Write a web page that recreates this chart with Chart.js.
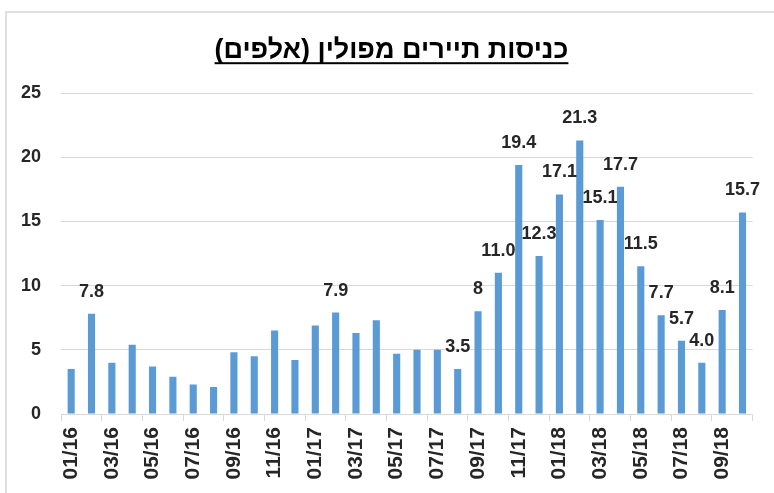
<!DOCTYPE html>
<html>
<head>
<meta charset="utf-8">
<script src="https://cdn.jsdelivr.net/npm/chart.js@4"></script>
<style>
  html, body { margin: 0; padding: 0; background: #ffffff; }
  #wrap { position: relative; width: 774px; height: 493px; }
</style>
</head>
<body>
<div id="wrap"><canvas id="tourists-chart"></canvas></div>
<script>
// כניסות תיירים מפולין, באלפים
const months = [
    '01/16', '02/16', '03/16', '04/16', '05/16', '06/16', '07/16', '08/16', '09/16', '10/16', '11/16', '12/16',
    '01/17', '02/17', '03/17', '04/17', '05/17', '06/17', '07/17', '08/17', '09/17', '10/17', '11/17', '12/17',
    '01/18', '02/18', '03/18', '04/18', '05/18', '06/18', '07/18', '08/18', '09/18', '10/18'
];
const entries = [
    3.5, 7.8, 4.0, 5.4, 3.7, 2.9, 2.3, 2.1, 4.8, 4.5, 6.5, 4.2,
    6.9, 7.9, 6.3, 7.3, 4.7, 5.0, 5.0, 3.5, 8.0, 11.0, 19.4, 12.3,
    17.1, 21.3, 15.1, 17.7, 11.5, 7.7, 5.7, 4.0, 8.1, 15.7
];
// תוויות הערכים שמופיעות מעל העמודות ('' = ללא תווית)
const valueLabels = [
    '', '7.8', '', '', '', '', '', '', '', '', '', '',
    '', '7.9', '', '', '', '', '', '3.5', '8', '11.0', '19.4', '12.3',
    '17.1', '21.3', '15.1', '17.7', '11.5', '7.7', '5.7', '4.0', '8.1', '15.7'
];
const yTicks = [0, 5, 10, 15, 20, 25];
const chartTitle = '\u200Fכניסות תיירים מפולין (אלפים)\u200F';

const textColor = '#262626';
const gridColor = '#d9d9d9';
const fontFamily = '"Liberation Sans", Arial, sans-serif';

// מסגרת אפורה (שמאל ולמעלה) וקו תחתון לכותרת
const framePlugin = {
    id: 'frame',
    beforeDraw(chart) {
        const ctx = chart.ctx;
        ctx.save();
        ctx.strokeStyle = '#e0e0e0';
        ctx.lineWidth = 2;
        ctx.beginPath();
        ctx.moveTo(6, chart.height);
        ctx.lineTo(6, 12);
        ctx.lineTo(chart.width, 12);
        ctx.stroke();
        ctx.restore();
    },
    afterDraw(chart) {
        const t = chart.titleBlock;
        if (!t) return;
        const ctx = chart.ctx;
        const font = Chart.helpers.toFont(chart.options.plugins.title.font);
        ctx.save();
        ctx.font = font.string;
        const w = ctx.measureText(chartTitle).width;
        const cx = (t.left + t.right) / 2;
        const cy = t.top + t.options.padding.top + font.lineHeight / 2;
        ctx.fillStyle = '#000000';
        ctx.fillRect(cx - w / 2, cy + 12, w, 2);
        ctx.restore();
    }
};

// תוויות ערכים מעל העמודות
const barLabelsPlugin = {
    id: 'barLabels',
    afterDatasetsDraw(chart) {
        const ctx = chart.ctx;
        const meta = chart.getDatasetMeta(0);
        ctx.save();
        ctx.font = 'bold 18px ' + fontFamily;
        ctx.fillStyle = textColor;
        ctx.textAlign = 'center';
        ctx.textBaseline = 'middle';
        meta.data.forEach(function (bar, i) {
            if (valueLabels[i]) {
                ctx.fillText(valueLabels[i], bar.x, bar.y - 22);
            }
        });
        ctx.restore();
    }
};

const config = {
    type: 'bar',
    data: {
        labels: months,
        datasets: [{
            label: 'כניסות תיירים',
            data: entries,
            backgroundColor: '#5b9bd5',
            barPercentage: 0.35,
            categoryPercentage: 1.0
        }]
    },
    options: {
        responsive: true,
        maintainAspectRatio: false,
        animation: false,
        layout: {
            padding: { left: 9, right: 0, top: 0, bottom: 0 }
        },
        plugins: {
            legend: { display: false },
            tooltip: { enabled: false },
            title: {
                display: true,
                text: chartTitle,
                color: '#000000',
                font: { family: fontFamily, size: 27, weight: 'bold', lineHeight: 1.2 },
                padding: { top: 34, bottom: 26.6 }
            }
        },
        scales: {
            x: {
                offset: true,
                grid: {
                    offset: true,
                    drawOnChartArea: false,
                    drawTicks: true,
                    tickLength: 7,
                    color: function (c) {
                        return (c.index === undefined || c.index % 2 === 0) ? gridColor : 'rgba(0,0,0,0)';
                    }
                },
                border: { display: true, color: gridColor, width: 1 },
                ticks: {
                    autoSkip: false,
                    minRotation: 90,
                    maxRotation: 90,
                    padding: 6,
                    color: textColor,
                    font: { family: fontFamily, size: 21, weight: 'bold' },
                    callback: function (value, index) {
                        return index % 2 === 0 ? months[index] : '';
                    }
                },
                afterFit: function (scale) { scale.height = 79; }
            },
            y: {
                min: 0,
                max: 25,
                afterBuildTicks: function (scale) {
                    scale.ticks = yTicks.map(function (v) { return { value: v }; });
                },
                grid: { color: gridColor, drawTicks: false },
                border: { display: false },
                ticks: {
                    padding: 20,
                    color: textColor,
                    font: { family: fontFamily, size: 18, weight: 'bold' }
                },
                afterFit: function (scale) { scale.width = 52; }
            },
            // ציר ריק מימין לשמירת שוליים
            spacer: {
                type: 'linear',
                position: 'right',
                display: true,
                grid: { display: false },
                border: { display: false },
                ticks: { display: false },
                afterFit: function (scale) { scale.width = 20; }
            }
        }
    },
    plugins: [framePlugin, barLabelsPlugin]
};

const touristsChart = new Chart(document.getElementById('tourists-chart'), config);
</script>
</body>
</html>
